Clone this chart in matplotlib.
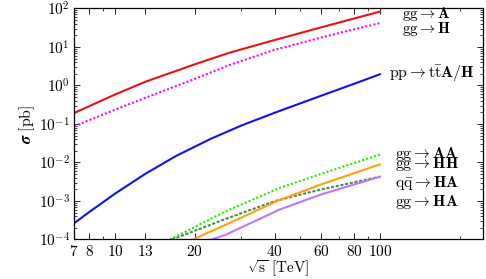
import numpy as np
import matplotlib
matplotlib.use('Agg')
import matplotlib.pyplot as plt
from matplotlib.ticker import FixedLocator, FixedFormatter, LogLocator, NullFormatter

plt.rcParams['mathtext.fontset'] = 'cm'

# sqrt(s) [TeV] and log10(sigma [pb])
s_A = [7, 10, 13, 20, 27, 40, 60, 80, 100]
gg_A = [-0.715, -0.235, 0.096, 0.55, 0.85, 1.18, 1.51, 1.74, 1.92]
gg_H = [-1.06, -0.63, -0.32, 0.17, 0.53, 0.925, 1.245, 1.46, 1.62]

s_tt = [7, 8, 10, 13, 17, 23, 30, 40, 60, 80, 100]
pp_ttAH = [-3.58, -3.284, -2.809, -2.296, -1.83, -1.384, -1.04, -0.71, -0.266, 0.046, 0.29]

s_AA = [16.1, 26.3, 41.9, 60, 100]
gg_AA = [-4.0, -3.26, -2.66, -2.295, -1.795]
s_HH = [16.4, 26.3, 40.2, 60, 100]
gg_HH = [-4.0, -3.46, -3.0, -2.70, -2.37]
s_qq = [19.7, 26.3, 41.9, 60, 100]
qq_HA = [-4.0, -3.61, -2.97, -2.57, -2.05]
s_HA = [23.2, 26.3, 41.9, 60, 100]
gg_HA = [-4.0, -3.87, -3.22, -2.83, -2.37]

xmajor = [7, 8, 10, 13, 20, 40, 60, 80, 100]
xminor = [9, 30, 50, 70, 90, 200]

fig = plt.figure(figsize=(4.86, 2.79), dpi=100)
ax = fig.add_axes([0.1523, 0.1416, 0.8415, 0.828])

lw = 1.5
ax.plot(s_A, 10**np.array(gg_A), color='#ee1111', lw=lw)
ax.plot(s_A, 10**np.array(gg_H), color='#ff00ff', lw=lw, linestyle=(0, (1, 1)))
ax.plot(s_tt, 10**np.array(pp_ttAH), color='#1111ee', lw=lw)
ax.plot(s_AA, 10**np.array(gg_AA), color='#22ee00', lw=lw, linestyle=(0, (1, 1)))
ax.plot(s_HH, 10**np.array(gg_HH), color='#4a8a4a', lw=lw, linestyle=(0, (1.5, 0.8)))
ax.plot(s_qq, 10**np.array(qq_HA), color='#ffa010', lw=lw)
ax.plot(s_HA, 10**np.array(gg_HA), color='#bb77ff', lw=lw)

ax.set_xscale('log')
ax.set_yscale('log')
ax.set_xlim(7, 245)
ax.set_ylim(1e-4, 1e2)

ax.xaxis.set_major_locator(FixedLocator(xmajor))
ax.xaxis.set_major_formatter(FixedFormatter(['$%d$' % v for v in xmajor]))
ax.xaxis.set_minor_locator(FixedLocator(xminor))
ax.xaxis.set_minor_formatter(NullFormatter())

yt = [1e-4, 1e-3, 1e-2, 1e-1, 1, 10, 100]
ax.yaxis.set_major_locator(FixedLocator(yt))
ax.yaxis.set_major_formatter(FixedFormatter(['$10^{%d}$' % e for e in range(-4, 3)]))
ax.yaxis.set_minor_locator(LogLocator(base=10, subs=np.arange(2, 10), numticks=20))
ax.yaxis.set_minor_formatter(NullFormatter())

ax.tick_params(which='both', direction='in', top=True, right=True, labelsize=11, color='#222222')
ax.tick_params(which='major', length=4, width=0.7, pad=3)
ax.tick_params(which='minor', length=2, width=0.6)
for sp in ax.spines.values():
    sp.set_linewidth(0.9)

ax.set_ylabel(r'$\boldsymbol{\sigma}\ [\mathrm{pb}]$', fontsize=11.5, labelpad=1)
ax.set_xlabel(r'$\sqrt{\mathrm{s}}\ [\mathrm{TeV}]$', fontsize=11, labelpad=0)

fs = 11.5

def lbl(xp, yp, t, size=fs):
    ax.annotate(t, xy=(xp, 279 - yp), xycoords='figure pixels', fontsize=size, va='center')

lbl(402, 14, r'$\mathrm{gg}\rightarrow\mathbf{A}$', 11)
lbl(402, 29.5, r'$\mathrm{gg}\rightarrow\mathbf{H}$', 11)
lbl(389, 74, r'$\mathrm{pp}\rightarrow\mathrm{t\bar{t}}\mathbf{A/H}$')
lbl(395, 154, r'$\mathrm{gg}\rightarrow\mathbf{AA}$')
lbl(395, 164, r'$\mathrm{gg}\rightarrow\mathbf{HH}$')
lbl(395, 183, r'$\mathrm{q\bar{q}}\rightarrow\mathbf{HA}$')
lbl(395, 202, r'$\mathrm{gg}\rightarrow\mathbf{HA}$')

fig.savefig('out.png', dpi=100)
